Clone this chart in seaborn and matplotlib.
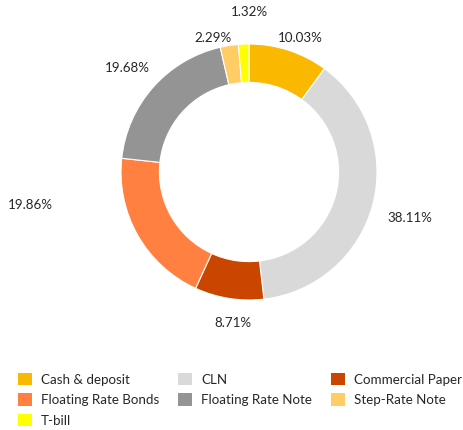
import matplotlib
matplotlib.use("Agg")
import matplotlib.pyplot as plt
import matplotlib.patches as mpatches
import seaborn as sns

# === Data ===
categories = ["Cash & deposit", "CLN", "Commercial Paper", "Floating Rate Bonds",
              "Floating Rate Note", "Step-Rate Note", "T-bill"]
shares = [10.03, 38.11, 8.71, 19.86, 19.68, 2.29, 1.32]
colors = ["#FAB800", "#D9D9D9", "#CA4600", "#FF8040", "#949494", "#FFCC66", "#FFFF00"]

# label positions (data units, radius 1 = outer ring)
label_pos = [(0.40, 1.05), (1.26, -0.36), (-0.125, -1.18), (-1.71, -0.26),
             (-0.95, 0.81), (-0.28, 1.05), (0.0, 1.25)]

# === Style ===
sns.set_theme(style="white")
plt.rcParams['font.family'] = ['Lato', 'DejaVu Sans']
fs = 9.6

fig = plt.figure(figsize=(4.63, 4.30), dpi=100)
ax = fig.add_axes([0, 85 / 430, 1, 345 / 430])

ax.pie(shares, colors=colors, startangle=90, counterclock=False,
       radius=1.0, wedgeprops=dict(width=0.3, edgecolor="white", linewidth=0.8))

for val, (x, y) in zip(shares, label_pos):
    ax.text(x, y, f"{val:.2f}%", ha="center", va="center", fontsize=fs, color="#262626")

ax.set_aspect("auto")
ax.set_xlim(-249 / 128, (463 - 249) / 128)
ax.set_ylim(-(345 - 172) / 128, 172 / 128)
ax.axis("off")

# legend, row-major like the original (3 columns)
order = [0, 3, 6, 1, 4, 2, 5]
handles = [mpatches.Patch(facecolor=colors[i], edgecolor="none", label=categories[i]) for i in order]
fig.legend(handles=handles, ncol=3, loc="upper left", bbox_to_anchor=(18 / 463, 1 - 373 / 430),
           frameon=False, fontsize=fs, handlelength=1.05, handleheight=1.05,
           handletextpad=0.65, columnspacing=1.45, labelspacing=0.58, borderaxespad=0,
           borderpad=0)

fig.savefig("out.png", dpi=100)
